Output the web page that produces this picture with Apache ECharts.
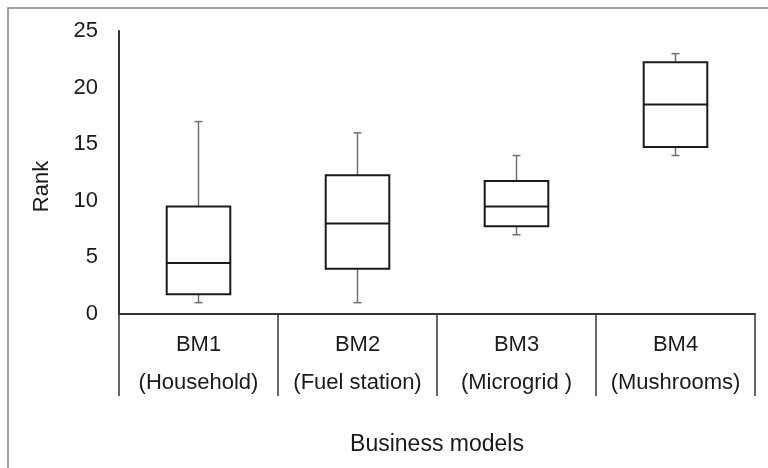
<!DOCTYPE html>
<html>
<head>
<meta charset="utf-8">
<script src="https://cdn.jsdelivr.net/npm/echarts@6/dist/echarts.min.js"></script>
<style>
  html, body { margin: 0; padding: 0; background: #fff; }
  #chart { width: 768px; height: 468px; }
</style>
</head>
<body>
<div id="chart"></div>
<script>
// Business model labels (code + description)
const categories = ['BM1', 'BM2', 'BM3', 'BM4'];
const descriptions = ['(Household)', '(Fuel station)', '(Microgrid )', '(Mushrooms)'];

// Five-number summaries of rank per business model
const whiskerLow = [1, 1, 7, 14];
const quartile1 = [1.75, 4, 7.75, 14.75];
const medians = [4.5, 8, 9.5, 18.5];
const quartile3 = [9.5, 12.25, 11.75, 22.25];
const whiskerHigh = [17, 16, 14, 23];

// Y axis ticks
const yMin = 0, yMax = 25, yStep = 5;

const boxData = categories.map((c, i) =>
  [i, whiskerLow[i], quartile1[i], medians[i], quartile3[i], whiskerHigh[i]]);

const FONT = '"Liberation Sans", Arial, Helvetica, sans-serif';

function renderBox(params, api) {
  const i = api.value(0);
  const lo = api.coord([i, api.value(1)]);
  const q1 = api.coord([i, api.value(2)]);
  const md = api.coord([i, api.value(3)]);
  const q3 = api.coord([i, api.value(4)]);
  const hi = api.coord([i, api.value(5)]);
  const bandW = api.size([1, 0])[0];
  const halfBox = bandW * 0.2;
  const cap = 4;
  const x = lo[0];
  const boxStyle = { stroke: '#1a1a1a', lineWidth: 2, fill: '#fff' };
  const whiskerStyle = { stroke: '#707070', lineWidth: 1.5 };
  return {
    type: 'group',
    children: [
      { type: 'line', shape: { x1: x, y1: hi[1], x2: x, y2: q3[1] }, style: whiskerStyle },
      { type: 'line', shape: { x1: x - cap, y1: hi[1], x2: x + cap, y2: hi[1] }, style: whiskerStyle },
      { type: 'line', shape: { x1: x, y1: lo[1], x2: x, y2: q1[1] }, style: whiskerStyle },
      { type: 'line', shape: { x1: x - cap, y1: lo[1], x2: x + cap, y2: lo[1] }, style: whiskerStyle },
      { type: 'rect', shape: { x: x - halfBox, y: q3[1], width: halfBox * 2, height: q1[1] - q3[1] }, style: boxStyle },
      { type: 'line', shape: { x1: x - halfBox, y1: md[1], x2: x + halfBox, y2: md[1] }, style: { stroke: '#1a1a1a', lineWidth: 2 } }
    ]
  };
}

const chart = echarts.init(document.getElementById('chart'), null, { renderer: 'canvas' });
chart.setOption({
  animation: false,
  backgroundColor: '#fff',
  textStyle: { fontFamily: FONT },
  graphic: [{
    type: 'rect',
    shape: { x: 8, y: 8, width: 800, height: 500 },
    style: { fill: 'none', stroke: '#808080', lineWidth: 1.5 },
    silent: true,
    z: -1
  }],
  grid: { left: 119, right: 13, top: 31, bottom: 154, containLabel: false },
  xAxis: {
    type: 'category',
    data: categories,
    boundaryGap: true,
    name: 'Business models',
    nameLocation: 'middle',
    nameGap: 119,
    nameTextStyle: { fontSize: 23, color: '#1a1a1a', fontFamily: FONT },
    axisLine: { lineStyle: { color: '#333', width: 2 } },
    axisTick: { show: true, interval: 0, length: 82, lineStyle: { color: '#333', width: 1.5 } },
    axisLabel: {
      interval: 0,
      margin: 12,
      fontSize: 22,
      lineHeight: 38,
      color: '#1a1a1a',
      fontFamily: FONT,
      formatter: (v, idx) => v + '\n' + descriptions[idx]
    },
    splitLine: { show: false }
  },
  yAxis: {
    type: 'value',
    min: yMin,
    max: yMax,
    interval: yStep,
    name: 'Rank',
    nameLocation: 'middle',
    nameGap: 66,
    nameTextStyle: { fontSize: 22, color: '#1a1a1a', fontFamily: FONT, padding: [0, 28, 0, 0] },
    axisLine: { show: true, lineStyle: { color: '#333', width: 2 } },
    axisTick: { show: false },
    axisLabel: { margin: 21, fontSize: 22, color: '#1a1a1a', fontFamily: FONT },
    splitLine: { show: false }
  },
  series: [{
    type: 'custom',
    renderItem: renderBox,
    encode: { x: 0, y: [1, 2, 3, 4, 5] },
    data: boxData
  }]
});
</script>
</body>
</html>
